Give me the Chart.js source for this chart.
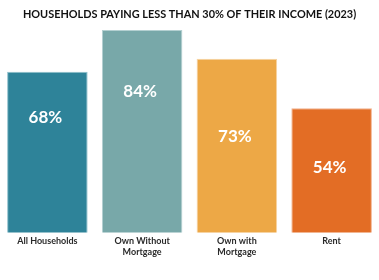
<!DOCTYPE html>
<html>
<head>
<meta charset="utf-8">
<script src="https://cdn.jsdelivr.net/npm/chart.js@4.4.0/dist/chart.umd.min.js"></script>
<style>
  html, body { margin: 0; padding: 0; background: #ffffff; }
  #wrap { width: 379px; height: 280px; position: relative; }
</style>
</head>
<body>
<div id="wrap"><canvas id="barChart"></canvas></div>
<script>
// datos del gráfico
const categories = [['All Households'], ['Own Without', 'Mortgage'], ['Own with', 'Mortgage'], ['Rent']];
const values = [68, 84, 73, 54];
const barColors = ['#2e8399', '#78a8a9', '#eda846', '#e36d25'];
const barEdges = ['#8fc0cc', '#b4d0d1', '#f6d3a2', '#f1b08c'];
// posición de la etiqueta dentro de la barra (fracción desde arriba)
const labelPos = [0.26, 0.28, 0.41, 0.42];

const valueLabels = {
    id: 'valueLabels',
    afterDatasetsDraw(chart) {
        const ctx = chart.ctx;
        const meta = chart.getDatasetMeta(0);
        ctx.save();
        ctx.fillStyle = '#ffffff';
        ctx.font = 'bold 17px Lato';
        ctx.textAlign = 'center';
        ctx.textBaseline = 'middle';
        meta.data.forEach((bar, i) => {
            const y = bar.y + (bar.base - bar.y) * labelPos[i];
            ctx.fillText(values[i] + '%', bar.x - 2, y);
        });
        ctx.restore();
    }
};

const ctx = document.getElementById('barChart').getContext('2d');
new Chart(ctx, {
    type: 'bar',
    data: {
        labels: categories,
        datasets: [{
            data: values,
            backgroundColor: barColors,
            borderColor: barEdges,
            borderWidth: 1,
            barPercentage: 0.85,
            categoryPercentage: 1
        }]
    },
    options: {
        responsive: true,
        maintainAspectRatio: false,
        animation: false,
        layout: { padding: { top: 0, left: 0, right: 0, bottom: 20 } },
        plugins: {
            legend: { display: false },
            tooltip: { enabled: false },
            title: {
                display: true,
                text: 'HOUSEHOLDS PAYING LESS THAN 30% OF THEIR INCOME (2023)',
                color: '#111111',
                font: { family: 'Lato', weight: 'bold', size: 10.9 },
                padding: { top: 8, bottom: 9 }
            }
        },
        scales: {
            x: {
                grid: { display: false, drawTicks: false },
                border: { display: false },
                ticks: {
                    color: '#2a2a2a',
                    font: { family: 'Lato', weight: 'bold', size: 9 },
                    padding: 3,
                    maxRotation: 0,
                    autoSkip: false
                }
            },
            y: {
                display: false,
                min: 6.3,
                max: 84
            }
        }
    },
    plugins: [valueLabels]
});
</script>
</body>
</html>
